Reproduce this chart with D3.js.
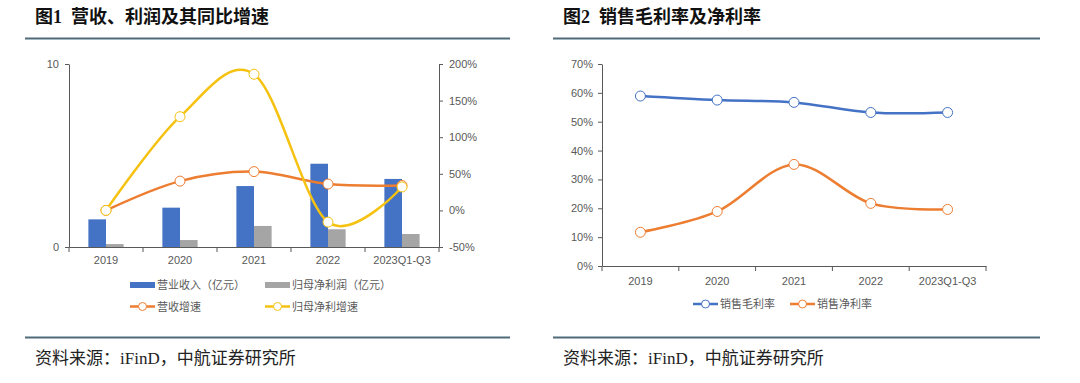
<!DOCTYPE html>
<html><head><meta charset="utf-8">
<script src="https://cdn.jsdelivr.net/npm/d3@7"></script>
<style>
body{margin:0;background:#fff;}
svg{display:block;}
</style></head>
<body><svg id="c" width="1080" height="383"></svg>
<script>
const categories = ["2019","2020","2021","2022","2023Q1-Q3"];
const revenue = [1.51, 2.15, 3.33, 4.55, 3.72];
const netProfit = [0.16, 0.38, 1.15, 0.97, 0.71];
const revenueGrowth = [0, 40, 53, 36, 34];
const profitGrowth = [0, 128, 186, -16, 32];
const grossMargin = [58.9, 57.5, 56.7, 53.2, 53.2];
const netMargin = [11.7, 18.9, 35.2, 21.7, 19.6];
const leftTicks = [0, 10];
const rightTicks = [-50, 0, 50, 100, 150, 200];
const marginTicks = [0, 10, 20, 30, 40, 50, 60, 70];

const C = {blue:"#4472C4", gray:"#A5A5A5", orange:"#ED7D31", yellow:"#F5C211", axis:"#595959", text:"#595959", rule:"#4F6B7A"};
const tickFont = "'Liberation Sans', Arial, sans-serif";
const cjk = "'Noto Sans CJK SC', sans-serif";

const svg = d3.select("#c");

function frame(x0, x1, title, tx){
  svg.append("text").attr("x", tx).attr("y", 23).text(title)
    .style("white-space", "pre")
    .attr("font-family", "'Liberation Serif','Noto Sans CJK SC',serif").attr("font-weight", 700)
    .attr("font-size", 18).attr("fill", "#111");
  svg.append("line").attr("x1", x0).attr("x2", x1).attr("y1", 38.5).attr("y2", 38.5)
    .attr("stroke", C.rule).attr("stroke-width", 2);
  svg.append("line").attr("x1", x0).attr("x2", x1).attr("y1", 337.5).attr("y2", 337.5)
    .attr("stroke", C.rule).attr("stroke-width", 2);
  svg.append("text").attr("x", tx).attr("y", 364).text("资料来源：iFinD，中航证券研究所")
    .attr("font-family", "'Liberation Serif','Noto Sans CJK SC',serif")
    .attr("font-size", 17).attr("fill", "#222");
}
frame(25, 510, "图1  营收、利润及其同比增速", 35);
frame(553, 1040, "图2  销售毛利率及净利率", 563);

function styleAxis(g){
  g.selectAll("path,line").attr("stroke", C.axis).attr("stroke-width", 1);
  g.selectAll("text").attr("fill", C.text).attr("font-family", tickFont).attr("font-size", 11);
}

// ---------- Chart 1 ----------
const x1 = d3.scaleBand().domain(categories).range([69, 439]);
const yL = d3.scaleLinear().domain([0, 10]).range([247, 64]);
const yR = d3.scaleLinear().domain([-50, 200]).range([247, 64]);
const inner = d3.scaleBand().domain(["rev","np"]).range([0, x1.bandwidth()]).paddingInner(0).paddingOuter(1.1);

const g1 = svg.append("g");
categories.forEach((c, i) => {
  g1.append("rect").attr("x", x1(c) + inner("rev")).attr("width", inner.bandwidth())
    .attr("y", yL(revenue[i])).attr("height", yL(0) - yL(revenue[i])).attr("fill", C.blue);
  g1.append("rect").attr("x", x1(c) + inner("np")).attr("width", inner.bandwidth())
    .attr("y", yL(netProfit[i])).attr("height", yL(0) - yL(netProfit[i])).attr("fill", C.gray);
});

const gxl = svg.append("g").attr("transform", "translate(0,247)")
  .call(d3.axisBottom(x1).tickSize(0).tickPadding(9));
styleAxis(gxl);
const bounds1 = categories.map(c => x1(c)).concat([x1.range()[1]]);
gxl.selectAll(".bt").data(bounds1).enter().append("line").attr("class","bt")
  .attr("x1", d=>d).attr("x2", d=>d).attr("y1", 0).attr("y2", 5).attr("stroke", C.axis);

const gyl = svg.append("g").attr("transform", "translate(69,0)")
  .call(d3.axisLeft(yL).tickValues(leftTicks).tickSize(4).tickSizeOuter(0).tickPadding(6));
styleAxis(gyl);
const gyr = svg.append("g").attr("transform", "translate(439,0)")
  .call(d3.axisRight(yR).tickValues(rightTicks).tickFormat(d => d + "%").tickSize(4).tickSizeOuter(0).tickPadding(6));
styleAxis(gyr);

function series(g, xs, ys, vals, color, lw){
  const pts = vals.map((v, i) => [xs(categories[i]) + xs.bandwidth()/2, ys(v)]);
  g.append("path").attr("d", d3.line().curve(d3.curveCardinal.tension(0))(pts))
    .attr("fill", "none").attr("stroke", color).attr("stroke-width", lw).attr("stroke-linecap","round");
  g.selectAll(null).data(pts).enter().append("circle")
    .attr("cx", d => d[0]).attr("cy", d => d[1]).attr("r", 5)
    .attr("fill", "#fff").attr("stroke", color).attr("stroke-width", 1);
}
series(g1, x1, yR, revenueGrowth, C.orange, 2.5);
series(g1, x1, yR, profitGrowth, C.yellow, 2.5);

function legendBar(x, y, color, label){
  svg.append("rect").attr("x", x).attr("y", y - 3).attr("width", 25).attr("height", 6).attr("fill", color);
  svg.append("text").attr("x", x + 27).attr("y", y + 4).text(label)
    .attr("font-family", cjk).attr("font-size", 11).attr("fill", C.text);
}
function legendLine(x, y, color, label){
  svg.append("line").attr("x1", x).attr("x2", x + 25).attr("y1", y).attr("y2", y)
    .attr("stroke", color).attr("stroke-width", 2.5);
  svg.append("circle").attr("cx", x + 12.5).attr("cy", y).attr("r", 4)
    .attr("fill", "#fff").attr("stroke", color).attr("stroke-width", 1);
  svg.append("text").attr("x", x + 27).attr("y", y + 4).text(label)
    .attr("font-family", cjk).attr("font-size", 11).attr("fill", C.text);
}
legendBar(130, 285, C.blue, "营业收入（亿元）");
legendBar(265, 285, C.gray, "归母净利润（亿元）");
legendLine(130, 306.5, C.orange, "营收增速");
legendLine(265, 306.5, C.yellow, "归母净利增速");

// ---------- Chart 2 ----------
const x2 = d3.scaleBand().domain(categories).range([602, 986]);
const y2 = d3.scaleLinear().domain([0, 70]).range([266, 64]);
const g2 = svg.append("g");

const gx2 = svg.append("g").attr("transform", "translate(0,266)")
  .call(d3.axisBottom(x2).tickSize(0).tickPadding(11));
styleAxis(gx2);
const bounds2 = categories.map(c => x2(c)).concat([x2.range()[1]]);
gx2.selectAll(".bt").data(bounds2).enter().append("line").attr("class","bt")
  .attr("x1", d=>d).attr("x2", d=>d).attr("y1", 0).attr("y2", 5).attr("stroke", C.axis);
const gy2 = svg.append("g").attr("transform", "translate(602,0)")
  .call(d3.axisLeft(y2).tickValues(marginTicks).tickFormat(d => d + "%").tickSize(4).tickSizeOuter(0).tickPadding(5));
styleAxis(gy2);

series(g2, x2, y2, grossMargin, C.blue, 2.5);
series(g2, x2, y2, netMargin, C.orange, 2.5);

legendLine(693, 304, C.blue, "销售毛利率");
legendLine(790, 304, C.orange, "销售净利率");
</script></body></html>
